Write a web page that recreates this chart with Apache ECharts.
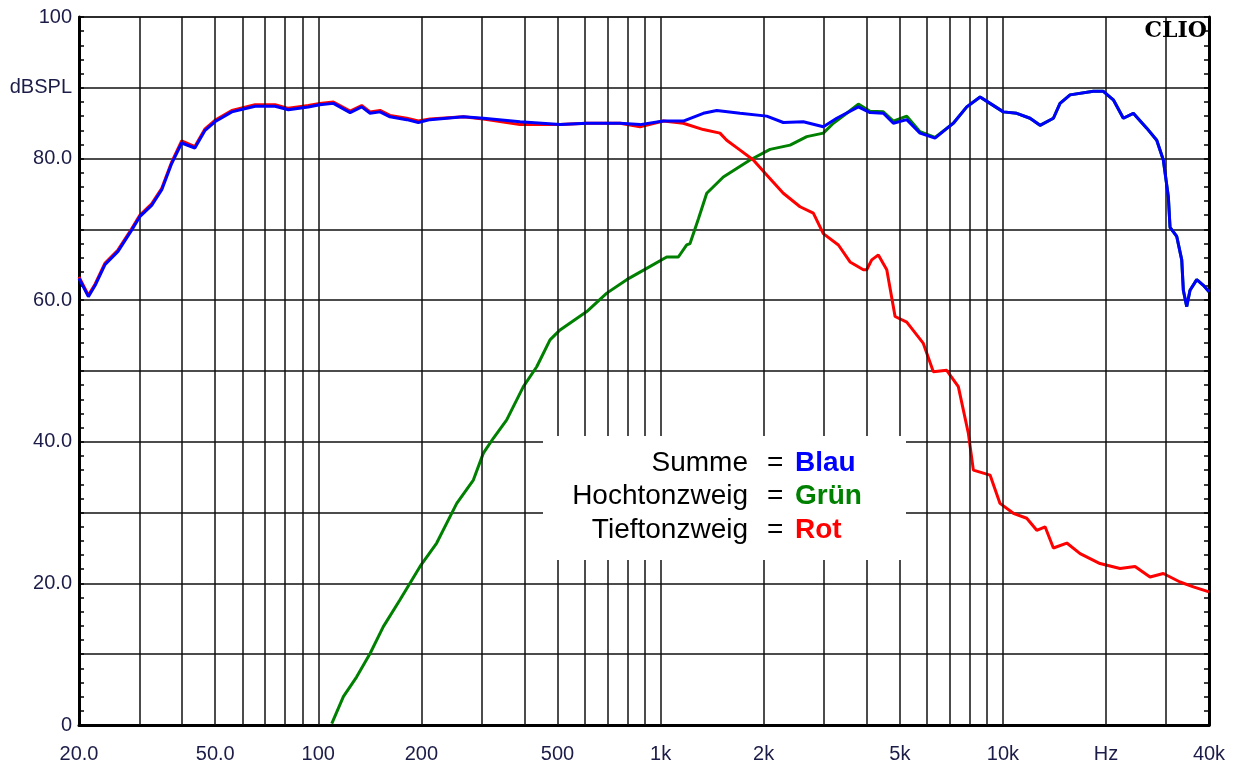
<!DOCTYPE html>
<html>
<head>
<meta charset="utf-8">
<title>Frequenzgang</title>
<script src="https://cdn.jsdelivr.net/npm/echarts@6/dist/echarts.min.js"></script>
<style>
  html, body { margin: 0; padding: 0; background: #fff; }
  #main { width: 1241px; height: 767px; }
</style>
</head>
<body>
<div id="main"></div>
<script>
var summe = [
  [20, 63.1], [21.3, 60.5], [22.3, 62.1], [23.8, 65.0], [26, 66.9], [28.5, 69.9], [30.1, 71.8],
  [32.6, 73.4], [34.9, 75.6], [37.3, 79.3], [39.9, 82.2], [43.6, 81.5], [46.7, 84.0], [49.9, 85.2],
  [55.9, 86.6], [65.4, 87.4], [74.8, 87.4], [81.8, 86.9], [93.5, 87.3], [101, 87.6], [110.7, 87.8],
  [123.9, 86.5], [133.9, 87.3], [141.7, 86.4], [151.5, 86.6], [162, 85.9], [181.3, 85.5], [196, 85.1],
  [212, 85.5], [265.5, 85.9], [303.6, 85.7], [388.5, 85.2], [508.5, 84.8], [608.6, 85.0], [761.5, 85.0],
  [871, 84.8], [1019, 85.3], [1165, 85.3], [1333, 86.4], [1459, 86.8], [1707, 86.4], [2042, 86.0],
  [2283, 85.1], [2612, 85.2], [2988, 84.5], [3271, 85.7], [3782, 87.3], [4092, 86.5], [4475, 86.4],
  [4786, 85.0], [5238, 85.5], [5726, 83.6], [6334, 82.9], [7165, 85.0], [7841, 87.3], [8578, 88.7],
  [9172, 87.8], [10030, 86.6], [10978, 86.4], [12003, 85.7], [12838, 84.7], [14044, 85.7], [14684, 87.8],
  [15710, 89.0], [18379, 89.5], [19651, 89.5], [21018, 88.3], [22481, 85.7], [24044, 86.4], [26314, 84.3],
  [28145, 82.6], [29420, 79.8], [30431, 74.6], [30776, 70.3], [32197, 69.0], [33297, 65.7], [33656, 61.4],
  [34436, 59.1], [35208, 61.4], [36831, 62.9], [38514, 62.1], [40000, 61.2]
];
var hochton = [
  [109.5, 0.2], [118.4, 4.0], [129.5, 6.8], [141.7, 10.1], [154.9, 13.9], [173.3, 17.7], [198.3, 22.4],
  [221.8, 25.7], [253.8, 31.3], [283.8, 34.6], [303.6, 38.4], [324.6, 40.5], [355.2, 43.1], [397.3, 47.8],
  [434.7, 50.6], [475.3, 54.4], [508.5, 55.8], [608.6, 58.4], [696.4, 61.0], [796.2, 62.9], [910.7, 64.5],
  [1042, 66.1], [1127, 66.1], [1192, 67.8], [1219, 68.0], [1290, 71.5], [1364, 75.1], [1525, 77.4],
  [1825, 79.8], [2088, 81.3], [2389, 81.9], [2673, 83.1], [2988, 83.6], [3197, 85.0], [3498, 86.4],
  [3782, 87.7], [4092, 86.7], [4475, 86.6], [4786, 85.3], [5238, 86.0], [5726, 83.8], [6334, 83.0],
  [7165, 85.0], [7841, 87.3], [8578, 88.7], [9172, 87.8], [10030, 86.6], [10978, 86.4], [12003, 85.7],
  [12838, 84.7], [14044, 85.7], [14684, 87.8], [15710, 89.0], [18379, 89.5], [19651, 89.5], [21018, 88.3],
  [22481, 85.7], [24044, 86.4], [26314, 84.3], [28145, 82.6], [29420, 79.8], [30431, 74.6], [30776, 70.3],
  [32197, 69.0], [33297, 65.7], [33656, 61.4], [34436, 59.1], [35208, 61.4], [36831, 62.9], [38514, 62.1],
  [40000, 61.2]
];
var tiefton = [
  [20, 63.3], [21.3, 60.7], [22.3, 62.3], [23.8, 65.2], [26, 67.1], [28.5, 70.1], [30.1, 72.0],
  [32.6, 73.6], [34.9, 75.8], [37.3, 79.5], [39.9, 82.5], [43.6, 81.7], [46.7, 84.2], [49.9, 85.4],
  [55.9, 86.8], [65.4, 87.6], [74.8, 87.6], [81.8, 87.1], [93.5, 87.5], [101, 87.8], [110.7, 88.0],
  [123.9, 86.7], [133.9, 87.5], [141.7, 86.6], [151.5, 86.8], [162, 86.1], [181.3, 85.7], [196, 85.3],
  [212, 85.6], [265.5, 85.9], [303.6, 85.6], [388.5, 84.8], [508.5, 84.8], [608.6, 85.0], [761.5, 85.0],
  [871, 84.5], [1019, 85.3], [1165, 85.0], [1333, 84.1], [1491, 83.6], [1560, 82.6], [1707, 81.2],
  [1866, 79.8], [2042, 77.7], [2283, 75.1], [2555, 73.2], [2794, 72.3], [2988, 69.4], [3307, 67.8],
  [3576, 65.4], [3911, 64.3], [4001, 64.3], [4138, 65.7], [4327, 66.4], [4579, 64.3], [4842, 57.7],
  [5238, 56.9], [5856, 53.9], [6263, 49.9], [6853, 50.1], [7409, 47.8], [7926, 41.2], [8197, 36.0],
  [9172, 35.3], [9807, 31.3], [10728, 29.9], [11739, 29.2], [12558, 27.5], [13282, 28.0], [14044, 25.0],
  [15370, 25.7], [16808, 24.2], [19214, 22.8], [21982, 22.1], [24322, 22.4], [26900, 20.9], [29420, 21.4],
  [32920, 20.2], [36010, 19.5], [40000, 18.8]
];

// senkrechte Gitterlinien (Hz)
var gridFreqs = [30, 40, 50, 60, 70, 80, 90, 100, 200, 300, 400, 500, 600, 700, 800, 900, 1000,
  2000, 3000, 4000, 5000, 6000, 7000, 8000, 9000, 10000, 20000, 30000];
// Beschriftung x-Achse
var xTickValues = [20, 50, 100, 200, 500, 1000, 2000, 5000, 10000, 20000, 40000];
var xTickLabels = ['20.0', '50.0', '100', '200', '500', '1k', '2k', '5k', '10k', 'Hz', '40k'];
// Legende
var legendNames = ['Summe', 'Hochtonzweig', 'Tieftonzweig'];
var legendWords = ['Blau', 'Grün', 'Rot'];
var legendColors = ['#0000ff', '#008000', '#ff0000'];

var chart = echarts.init(document.getElementById('main'));

var labelFont = { fontFamily: 'Arial, "Liberation Sans", sans-serif', fontSize: 20, color: '#1c1c48' };

var legendGraphics = [{
  type: 'rect', z: 100,
  shape: { x: 543, y: 436, width: 363, height: 124 },
  style: { fill: '#ffffff' }
}];
legendNames.forEach(function (n, i) {
  var y = 463 + i * 33.5;
  legendGraphics.push({
    type: 'text', z: 101, x: 748, y: y,
    style: { text: n, fill: '#000', font: '28px Arial, "Liberation Sans", sans-serif', textAlign: 'right', textVerticalAlign: 'middle' }
  });
  legendGraphics.push({
    type: 'text', z: 101, x: 767, y: y,
    style: { text: '=', fill: '#000', font: '28px Arial, "Liberation Sans", sans-serif', textAlign: 'left', textVerticalAlign: 'middle' }
  });
  legendGraphics.push({
    type: 'text', z: 101, x: 795, y: y,
    style: { text: legendWords[i], fill: legendColors[i], font: 'bold 28px Arial, "Liberation Sans", sans-serif', textAlign: 'left', textVerticalAlign: 'middle' }
  });
});
legendGraphics.push({
  type: 'text', z: 101, x: 1207, y: 31,
  style: { text: 'CLIO', fill: '#000', font: 'bold 22px "DejaVu Serif", serif', textAlign: 'right', textVerticalAlign: 'middle' }
});

var option = {
  animation: false,
  backgroundColor: '#ffffff',
  grid: {
    left: 79, right: 32, top: 17, bottom: 42,
    containLabel: false,
    outerBoundsMode: 'none',
    show: true, borderColor: '#808080', borderWidth: 2, backgroundColor: '#fff'
  },
  xAxis: {
    type: 'log', logBase: 10, min: 20, max: 40000,
    axisLine: { show: true, lineStyle: { color: '#000', width: 3 } },
    axisTick: { show: false },
    minorTick: { show: false },
    splitLine: { show: false },
    minorSplitLine: { show: false },
    axisLabel: {
      customValues: xTickValues,
      margin: 19,
      fontFamily: labelFont.fontFamily, fontSize: labelFont.fontSize, color: labelFont.color,
      formatter: function (v) {
        var i = xTickValues.indexOf(Math.round(v));
        return i >= 0 ? xTickLabels[i] : '';
      }
    }
  },
  yAxis: [{
    type: 'value', min: 0, max: 100, interval: 10, position: 'left',
    axisLine: { show: true, lineStyle: { color: '#000', width: 3 } },
    axisTick: { show: true, inside: true, length: 5, lineStyle: { color: '#000', width: 1.5 } },
    minorTick: { show: true, splitNumber: 5, length: 5, lineStyle: { color: '#000', width: 1.5 } },
    splitLine: { show: true, lineStyle: { color: '#111', width: 1.5 } },
    axisLabel: {
      margin: 7,
      fontFamily: labelFont.fontFamily, fontSize: labelFont.fontSize, color: labelFont.color,
      formatter: function (v) {
        if (v === 100) return '100';
        if (v === 90) return 'dBSPL';
        if (v === 0) return '0';
        if (v % 20 === 0) return v.toFixed(1);
        return '';
      }
    }
  }, {
    type: 'value', min: 0, max: 100, interval: 10, position: 'right',
    axisLine: { show: true, lineStyle: { color: '#000', width: 3 } },
    axisTick: { show: true, inside: true, length: 5, lineStyle: { color: '#000', width: 1.5 } },
    minorTick: { show: true, splitNumber: 5, length: 5, lineStyle: { color: '#000', width: 1.5 } },
    splitLine: { show: false },
    axisLabel: { show: false }
  }],
  graphic: legendGraphics,
  series: [
    {
      name: 'grid', type: 'line', data: [], z: 1, silent: true,
      markLine: {
        silent: true, symbol: ['none', 'none'], animation: false,
        label: { show: false },
        lineStyle: { color: '#111', width: 1.5, type: 'solid' },
        emphasis: { disabled: true },
        data: gridFreqs.map(function (f) { return { xAxis: f }; })
      }
    },
    {
      name: 'Hochtonzweig', type: 'line', data: hochton, z: 3,
      showSymbol: false, smooth: false,
      lineStyle: { color: '#008000', width: 3 }
    },
    {
      name: 'Tieftonzweig', type: 'line', data: tiefton, z: 4,
      showSymbol: false, smooth: false,
      lineStyle: { color: '#ff0000', width: 3 }
    },
    {
      name: 'Summe', type: 'line', data: summe, z: 5,
      showSymbol: false, smooth: false,
      lineStyle: { color: '#0000ff', width: 3 }
    }
  ]
};

chart.setOption(option);
window.onresize = chart.resize;
</script>
</body>
</html>
